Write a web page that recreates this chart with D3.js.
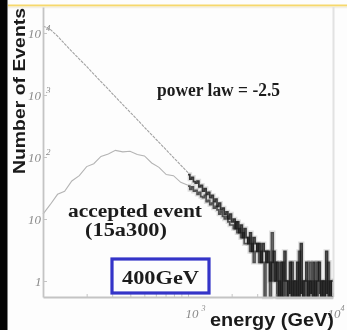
<!DOCTYPE html>
<html><head><meta charset="utf-8">
<script src="https://cdn.jsdelivr.net/npm/d3@7"></script>
<style>
html,body{margin:0;padding:0;background:#fff;}
svg{display:block;}
</style></head>
<body>
<svg id="chart" width="347" height="330"></svg>
<script>
// ---- data ----
const yTickValues = [1, 10, 100, 1000, 10000];
const yTickSup = ["", "", "2", "3", "4"];
const xTickValues = [1000, 10000];
const xTickSup = ["3", "4"];
const xMinorTicks = [200, 300, 400, 500, 600, 700, 800, 900, 2000, 3000, 4000, 5000, 6000, 7000, 8000, 9000];

// energies (GeV) of the smooth part, 100 GeV .. 1 TeV
const upperEnergy = [100, 112, 126, 141, 158, 178, 200, 224, 251, 282, 316, 355, 398, 447, 501, 562, 631, 708, 794, 891, 1000];
const powerLawUpper = [13000, 11500, 8900, 6700, 5050, 3800, 2880, 2170, 1640, 1240, 930, 700, 530, 400, 300, 228, 172, 130, 98, 74, 56];
const acceptedUpper = [12, 17, 25, 28, 41, 50, 70, 78, 102, 112, 128, 121, 124, 110, 104, 80, 68, 52, 50, 39, 35];

// fluctuating tail, 1 TeV .. 10 TeV, counts per fine bin
const powerLawTail = [
  52, 44, 47, 40, 38, 41, 33, 35,
  28, 31, 25, 27, 22, 24, 19, 21,
  16, 18, 14, 15, 12, 13, 10, 12,
  9, 10, 7, 9, 6, 8, 5, 7,
  5, 4, 6, 3, 5, 4, 3, 4,
  2, 4, 3, 2, 3, 1, 2, 3,
  1, 2, 0, 2, 0, 3, 1, 0,
  2, 0, 1, 0, 2, 0, 4, 0,
  1, 2, 0, 1, 0, 2, 0, 1,
  2, 0, 1, 0, 3, 0, 1, 0];
const acceptedTail = [
  34, 30, 33, 28, 29, 25, 27, 23,
  22, 24, 19, 20, 17, 18, 15, 16,
  14, 12, 13, 11, 10, 11, 9, 8,
  8, 7, 9, 6, 7, 5, 6, 4,
  4, 5, 3, 4, 2, 3, 4, 2,
  3, 2, 0, 3, 2, 0, 6, 1,
  2, 0, 1, 0, 2, 1, 0, 1,
  0, 2, 0, 1, 0, 3, 0, 1,
  0, 1, 0, 2, 0, 1, 0, 2,
  0, 1, 0, 1, 0, 2, 0, 1];
const tailLogEdges = d3.range(0, powerLawTail.length + 1).map(i => 3 + i / powerLawTail.length);

const labels = {
  yTitle: "Number of Events",
  xTitle: "energy (GeV)",
  powerLaw: "power law = -2.5",
  accepted1: "accepted event",
  accepted2: "(15a300)",
  boxed: "400GeV"
};

// ---- drawing ----
const svg = d3.select("#chart");
const W = 347, H = 330;
const plot = {left: 43, right: 333, top: 7, bottom: 297};

svg.append("rect").attr("width", W).attr("height", H).attr("fill", "#fdfdfd");
svg.append("rect").attr("x", 0).attr("y", 0).attr("width", 7.5).attr("height", H).attr("fill", "#050505");
svg.append("line").attr("x1", 8).attr("x2", W).attr("y1", 5.5).attr("y2", 5.5)
  .attr("stroke", "#f6d86c").attr("stroke-width", 2.2);
svg.append("line").attr("x1", 8).attr("x2", W).attr("y1", 7.5).attr("y2", 7.5)
  .attr("stroke", "#f3f0e6").attr("stroke-width", 1.5);

const x = d3.scaleLog().domain([100, 10000]).range([plot.left, plot.right]);
const y = d3.scaleLog().domain([0.552, 26240]).range([plot.bottom, plot.top]);

// right frame line
svg.append("line").attr("x1", plot.right + 0.5).attr("x2", plot.right + 0.5)
  .attr("y1", plot.top).attr("y2", plot.bottom)
  .attr("stroke", "#e2e2e2").attr("stroke-width", 2);

const defs = svg.append("defs");
defs.append("filter").attr("id", "soft").append("feGaussianBlur").attr("stdDeviation", 0.5);

const dataG = svg.append("g").attr("filter", "url(#soft)");

const smoothLine = d3.line().x((d, i) => x(upperEnergy[i])).y(d => y(d));
dataG.append("path").datum(powerLawUpper).attr("d", smoothLine)
  .attr("fill", "none").attr("stroke", "#a2a2a2").attr("stroke-width", 1.1)
  .attr("stroke-dasharray", "3,1");
dataG.append("path").datum(acceptedUpper).attr("d", smoothLine)
  .attr("fill", "none").attr("stroke", "#b4b4b4").attr("stroke-width", 1.1);

function tailPoints(vals) {
  const pts = vals.map((v, i) => [Math.pow(10, tailLogEdges[i]), v]);
  pts.push([Math.pow(10, tailLogEdges[vals.length]), vals[vals.length - 1]]);
  return pts;
}
const yOf = v => v > 0 ? y(v) : plot.bottom;
const stepLine = d3.line().x(d => x(d[0])).y(d => yOf(d[1])).curve(d3.curveStepAfter);

const tails = [[acceptedTail, "#3a3a3a"], [powerLawTail, "#1a1a1a"]];
tails.forEach(([vals]) => {
  dataG.append("path").datum(tailPoints(vals)).attr("d", stepLine)
    .attr("fill", "none").attr("stroke", "#777").attr("stroke-width", 4.5).attr("opacity", 0.22);
});
tails.forEach(([vals, col]) => {
  dataG.append("path").datum(tailPoints(vals)).attr("d", stepLine)
    .attr("fill", "none").attr("stroke", col).attr("stroke-width", 1.7).attr("opacity", 0.85);
});

// axes
const axisColor = "#c4c4c4";
const yAxis = svg.append("g").attr("transform", `translate(${plot.left},0)`)
  .call(d3.axisLeft(y).tickValues(yTickValues).tickSize(-4).tickSizeOuter(0));
yAxis.select(".domain").attr("stroke", axisColor).attr("stroke-width", 1.8);
yAxis.selectAll(".tick line").attr("stroke", axisColor);
yAxis.selectAll(".tick text").each(function(d, i) {
  const t = d3.select(this);
  t.text(null).attr("text-anchor", "start").attr("x", d === 1 ? -8 : -15).attr("dy", "0.32em")
    .attr("fill", "#8a8a8a").attr("font-family", "Liberation Serif, serif")
    .attr("font-style", "italic").attr("font-size", 13);
  t.append("tspan").text(d === 1 ? "1" : "10");
  if (yTickSup[i]) t.append("tspan").attr("dx", 5).attr("dy", -7).attr("font-size", 9).text(yTickSup[i]);
});

const xAxis = svg.append("g").attr("transform", `translate(0,${plot.bottom})`)
  .call(d3.axisBottom(x).tickValues(xTickValues).tickSize(-4).tickSizeOuter(0));
xAxis.select(".domain").attr("stroke", axisColor).attr("stroke-width", 1.8);
xAxis.selectAll(".tick line").attr("stroke", axisColor);
xAxis.selectAll(".tick text").each(function(d, i) {
  const t = d3.select(this);
  t.text(null).attr("text-anchor", "start").attr("x", d >= 10000 ? -6 : -3).attr("y", 12)
    .attr("fill", "#8a8a8a").attr("font-family", "Liberation Serif, serif")
    .attr("font-style", "italic").attr("font-size", 13);
  t.append("tspan").text("10");
  t.append("tspan").attr("dx", d >= 10000 ? 0 : 3).attr("dy", -7).attr("font-size", 8).text(xTickSup[i]);
});
const xMinor = svg.append("g").attr("transform", `translate(0,${plot.bottom})`)
  .call(d3.axisBottom(x).tickValues(xMinorTicks).tickSize(-3).tickFormat(""));
xMinor.select(".domain").remove();
xMinor.selectAll(".tick line").attr("stroke", axisColor);

// titles
svg.append("text").attr("transform", "translate(25,91) rotate(-90)")
  .attr("text-anchor", "middle").attr("font-family", "Liberation Sans, Arial, sans-serif")
  .attr("font-weight", "bold").attr("font-size", 17).attr("fill", "#1a1a1a")
  .attr("textLength", 166).attr("lengthAdjust", "spacingAndGlyphs")
  .text(labels.yTitle);
svg.append("text").attr("x", 210).attr("y", 326)
  .attr("font-family", "Liberation Sans, Arial, sans-serif")
  .attr("font-weight", "bold").attr("font-size", 18).attr("fill", "#1a1a1a")
  .attr("textLength", 124).attr("lengthAdjust", "spacingAndGlyphs")
  .text(labels.xTitle);

const serif = "Liberation Serif, 'Times New Roman', serif";
function note(txt, xx, yy, len) {
  svg.append("text").attr("x", xx).attr("y", yy)
    .attr("font-family", serif).attr("font-weight", "bold").attr("font-size", 18)
    .attr("fill", "#1c1c1c").attr("textLength", len).attr("lengthAdjust", "spacingAndGlyphs")
    .text(txt);
}
note(labels.powerLaw, 157, 96, 123);
note(labels.accepted1, 68, 217, 134);
note(labels.accepted2, 85, 236, 82);

svg.append("rect").attr("x", 112).attr("y", 259).attr("width", 97).attr("height", 34)
  .attr("fill", "none").attr("stroke", "#3434c8").attr("stroke-width", 3.2);
note(labels.boxed, 122, 284, 77);
</script>
</body></html>
